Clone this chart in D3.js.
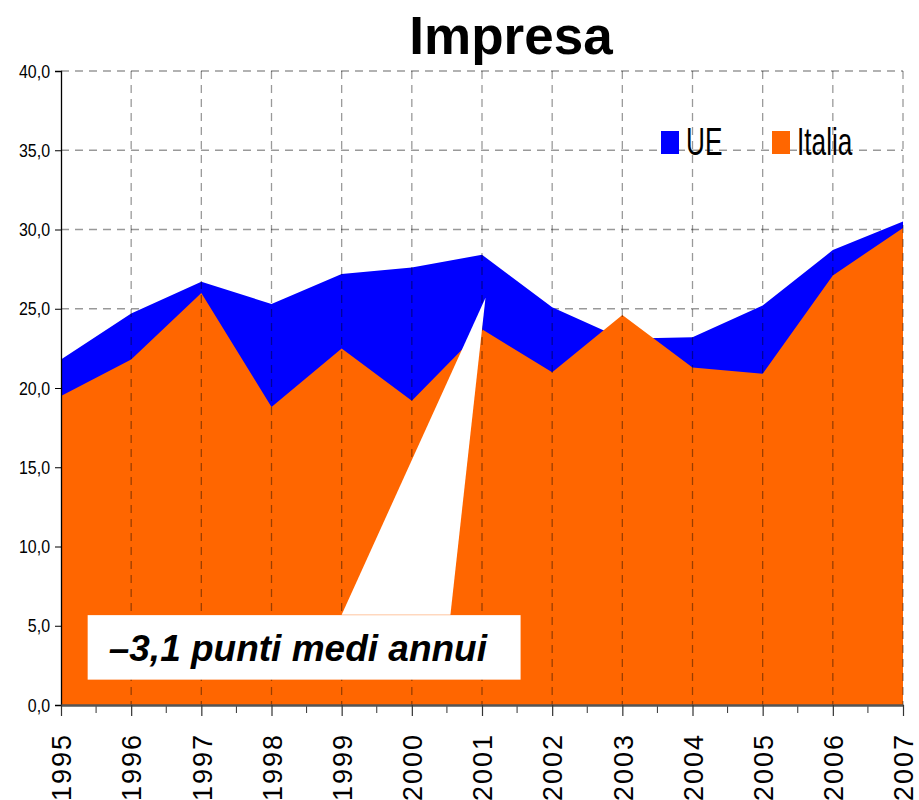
<!DOCTYPE html>
<html>
<head>
<meta charset="utf-8">
<script src="https://cdn.jsdelivr.net/npm/d3@7"></script>
<style>
  body { margin: 0; background: #fff; }
  svg { display: block; }
</style>
</head>
<body>
<div id="chart"></div>
<script>
const years = [1995, 1996, 1997, 1998, 1999, 2000, 2001, 2002, 2003, 2004, 2005, 2006, 2007];
const ue =     [21.8, 24.7, 26.7, 25.3, 27.2, 27.6, 28.4, 25.1, 23.1, 23.2, 25.2, 28.7, 30.5];
const italia = [19.5, 21.8, 26.0, 18.8, 22.5, 19.2, 23.7, 21.0, 24.6, 21.3, 20.9, 27.1, 30.1];
const yTicks = [0, 5, 10, 15, 20, 25, 30, 35, 40];
const callout = "\u20133,1 punti medi annui";

const width = 919, height = 800;
const margin = { top: 71, right: 16, bottom: 95, left: 61 };

const svg = d3.select("#chart").append("svg")
    .attr("width", width)
    .attr("height", height);

const x = d3.scaleLinear()
    .domain([years[0], years[years.length - 1]])
    .range([margin.left, width - margin.right]);

const y = d3.scaleLinear()
    .domain([0, 40])
    .range([height - margin.bottom, margin.top]);

const sans = "'Liberation Sans', Arial, sans-serif";

// horizontal grid (behind areas)
svg.append("g")
    .selectAll("line")
    .data(yTicks.filter(d => d > 0))
    .join("line")
    .attr("x1", margin.left)
    .attr("x2", width - margin.right)
    .attr("y1", d => y(d))
    .attr("y2", d => y(d))
    .attr("stroke", "#999")
    .attr("stroke-width", 1.3)
    .attr("stroke-dasharray", "8,6");

const area = (vals) => d3.area()
    .x((d, i) => x(years[i]))
    .y0(y(0))
    .y1(d => y(d))(vals);

svg.append("path").attr("d", area(ue)).attr("fill", "#0000ff");
svg.append("path").attr("d", area(italia)).attr("fill", "#ff6600");

// vertical grid (over areas)
svg.append("g")
    .selectAll("line")
    .data(years.slice(1))
    .join("line")
    .attr("x1", d => x(d))
    .attr("x2", d => x(d))
    .attr("y1", y(40))
    .attr("y2", y(0))
    .attr("stroke", "#000")
    .attr("stroke-opacity", 0.4)
    .attr("stroke-width", 1.3)
    .attr("stroke-dasharray", "8,6");

// callout wedge + box
const tip = [x(2001.05), y(25.7)];
svg.append("path")
    .attr("d", d3.line()([[x(1999.0), y(5.7)], tip, [x(2000.55), y(5.7)]]) + "Z")
    .attr("fill", "#fff");
svg.append("rect")
    .attr("x", x(1995.38))
    .attr("y", y(5.67))
    .attr("width", x(2001.55) - x(1995.38))
    .attr("height", y(1.6) - y(5.67))
    .attr("fill", "#fff");
svg.append("text")
    .attr("x", x(1995.68))
    .attr("y", y(2.75))
    .attr("font-family", sans)
    .attr("font-size", 37)
    .attr("font-weight", "bold")
    .attr("font-style", "italic")
    .attr("fill", "#000")
    .text(callout);

// y axis
const yAxis = svg.append("g")
    .attr("transform", `translate(${margin.left},0)`)
    .call(d3.axisLeft(y).tickValues(yTicks).tickSize(6).tickPadding(4)
        .tickFormat(d => d3.format(".1f")(d).replace(".", ",")));
yAxis.select(".domain").attr("stroke", "#000").attr("stroke-width", 1.3);
yAxis.selectAll(".tick line").attr("stroke", "#000");
yAxis.selectAll("text")
    .attr("font-family", sans)
    .attr("font-size", 19)
    .attr("fill", "#000")
    .attr("x", 0)
    .attr("transform", "translate(-11,0) scale(0.84,1)");

// x axis
const minor = years.slice(0, -1).map(d => d + 0.5);
svg.append("g")
    .selectAll("line")
    .data(minor)
    .join("line")
    .attr("x1", d => x(d))
    .attr("x2", d => x(d))
    .attr("y1", y(0))
    .attr("y2", y(0) + 8)
    .attr("stroke", "#333")
    .attr("stroke-width", 1);

const xAxis = svg.append("g")
    .attr("transform", `translate(0,${y(0)})`)
    .call(d3.axisBottom(x).tickValues(years).tickSize(11).tickSizeOuter(0).tickFormat(d3.format("d")));
xAxis.select(".domain").attr("stroke", "#555").attr("stroke-width", 2.5);
xAxis.selectAll(".tick line").attr("stroke", "#333").attr("stroke-width", 1.2);
xAxis.selectAll("text")
    .attr("font-family", sans)
    .attr("font-size", 27)
    .attr("fill", "#000")
    .attr("transform", "rotate(-90)")
    .attr("text-anchor", "end")
    .attr("x", -28)
    .attr("y", 0)
    .attr("dy", "0.36em")
    .attr("letter-spacing", 2);

// title
svg.append("text")
    .attr("x", 511)
    .attr("y", 54)
    .attr("text-anchor", "middle")
    .attr("font-family", sans)
    .attr("font-size", 53)
    .attr("font-weight", "bold")
    .attr("fill", "#000")
    .text("Impresa");

// legend
const legend = [
    { name: "UE", color: "#0000ff", x: 661 },
    { name: "Italia", color: "#ff6600", x: 772 }
];
const lg = svg.append("g").selectAll("g")
    .data(legend)
    .join("g")
    .attr("transform", d => `translate(${d.x},131)`);
lg.append("rect")
    .attr("width", 18)
    .attr("height", 23)
    .attr("fill", d => d.color);
lg.append("text")
    .attr("transform", "translate(25,24) scale(0.69,1)")
    .attr("font-family", sans)
    .attr("font-size", 38)
    .attr("fill", "#000")
    .text(d => d.name);
</script>
</body>
</html>
